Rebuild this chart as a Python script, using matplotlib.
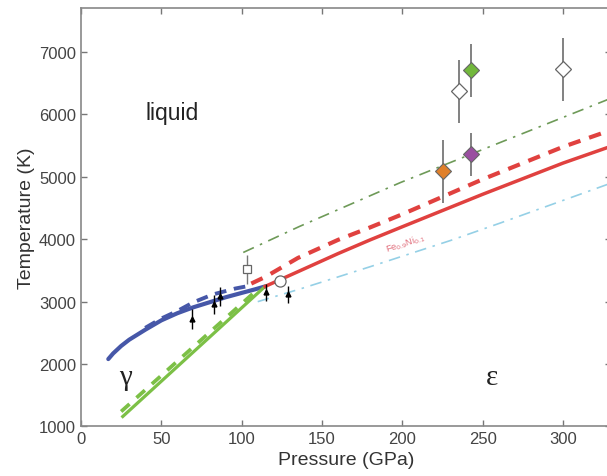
import numpy as np
import matplotlib
matplotlib.use("Agg")
import matplotlib.pyplot as plt

plt.rcParams['font.family'] = ['Liberation Sans', 'DejaVu Sans']

# melting / phase lines (pressure GPa, temperature K)
blue_p = [17, 20, 25, 30, 35, 40, 50, 60, 70, 80, 90, 100, 108, 114.6]
blue_t = [2080, 2170, 2290, 2390, 2470, 2550, 2700, 2815, 2910, 2990, 3070, 3140, 3195, 3244]
blue_dash_p = [40, 50, 60, 70, 82, 96, 106]
blue_dash_t = [2580, 2730, 2850, 2990, 3115, 3210, 3260]

green_p = [26, 114.6]
green_t = [1160, 3244]
green_dash_p = [25, 111]
green_dash_t = [1240, 3220]

red_p = [114.6, 135, 160, 180, 200, 225, 250, 275, 300, 330]
red_t = [3244, 3480, 3770, 3990, 4200, 4460, 4720, 4970, 5220, 5490]
red_dash_p = [106, 115, 135, 160, 180, 200, 225, 250, 275, 300, 330]
red_dash_t = [3290, 3400, 3700, 3990, 4190, 4400, 4680, 4960, 5220, 5480, 5750]

gdd_p = [101, 136, 199, 261, 330]
gdd_t = [3788, 4205, 4910, 5551, 6260]
cdd_p = [110, 136, 180, 230, 261, 330]
cdd_t = [3000, 3200, 3560, 3980, 4260, 4900]

# shock / diamond anvil data points
dia_p = [225.5, 243, 243]
dia_t = [5087, 5359, 6705]
dia_err = [510, 350, 420]
dia_col = ['#e0802a', '#9a4fa0', '#72b83c']
open_dia_p = [235, 300]
open_dia_t = [6369, 6721]
open_dia_err = [500, 500]

sq_p, sq_t, sq_err = [103.4], [3516], [230]
circ_p, circ_t = [124], [3324]

arr_p = [69, 82.8, 86.6, 115, 129]
arr_t = [2715, 2955, 3083, 3147, 3115]
arr_err = [160, 150, 150, 140, 130]

fig = plt.figure(figsize=(6.07, 4.77), dpi=100)
ax = fig.add_axes([0.1334, 0.1038, 0.8735, 0.8767])

ax.plot(blue_p, blue_t, color='#4657a8', lw=3, solid_capstyle='round')
ax.plot(blue_dash_p, blue_dash_t, color='#4657a8', lw=2.8, ls=(0, (3, 2)))
ax.plot(green_p, green_t, color='#7cc046', lw=2.3)
ax.plot(green_dash_p, green_dash_t, color='#7cc046', lw=2.7, ls=(0, (3, 2.5)))
ax.plot(red_p, red_t, color='#e0413f', lw=2.5)
ax.plot(red_dash_p, red_dash_t, color='#e0413f', lw=3, ls=(0, (3, 2.2)))
ax.plot(gdd_p, gdd_t, color='#6e9a58', lw=1.2, ls=(0, (7, 4, 1.5, 4)))
ax.plot(cdd_p, cdd_t, color='#95d0e6', lw=1.2, ls=(0, (7, 4, 1.5, 4)))

for p, t, e, c in zip(dia_p, dia_t, dia_err, dia_col):
    ax.errorbar(p, t, yerr=e, fmt='D', ms=8, mfc=c, mec='#666666', mew=0.8,
                ecolor='#777777', elinewidth=1.3, capsize=0, zorder=5)
ax.errorbar(open_dia_p, open_dia_t, yerr=open_dia_err, fmt='D', ms=8, mfc='white',
            mec='#666666', mew=0.9, ecolor='#777777', elinewidth=1.3, capsize=0, zorder=5)
ax.errorbar(sq_p, sq_t, yerr=sq_err, fmt='s', ms=6, mfc='white', mec='#666666', mew=0.9,
            ecolor='#777777', elinewidth=1.0, capsize=0, zorder=5)
ax.plot(circ_p, circ_t, 'o', ms=8, mfc='white', mec='#666666', mew=0.9, zorder=5)
ax.errorbar(arr_p, arr_t, yerr=arr_err, fmt='^', ms=3.5, color='black',
            elinewidth=1.0, capsize=0, zorder=6)

ax.text(56.8, 6030, 'liquid', fontsize=16.5, ha='center', va='center', color='#222222')
ax.text(27.4, 1785, 'γ', fontsize=21, ha='center', va='center', family='Liberation Serif', color='#222222')
ax.text(256, 1785, 'ε', fontsize=21, ha='center', va='center', family='Liberation Serif', color='#222222')
ax.text(202, 3937, 'Fe$_{0.9}$Ni$_{0.1}$', fontsize=6.5, color='#e06a78',
        rotation=18, ha='center', va='center')

ax.set_xlim(0, 330)
ax.set_ylim(1000, 7700)
ax.set_xticks([0, 50, 100, 150, 200, 250, 300])
ax.set_yticks([1000, 2000, 3000, 4000, 5000, 6000, 7000])
ax.tick_params(direction='in', length=4, width=1, color='#777777', labelcolor='#444444',
               labelsize=12, top=True, right=True)
for s in ax.spines.values():
    s.set_color('#888888')
    s.set_linewidth(1.2)
ax.spines['right'].set_visible(False)

ax.set_xlabel('Pressure (GPa)', fontsize=14, color='#333333', labelpad=3)
ax.set_ylabel('Temperature (K)', fontsize=14, color='#333333', labelpad=3)

fig.savefig('out.png', dpi=100)
